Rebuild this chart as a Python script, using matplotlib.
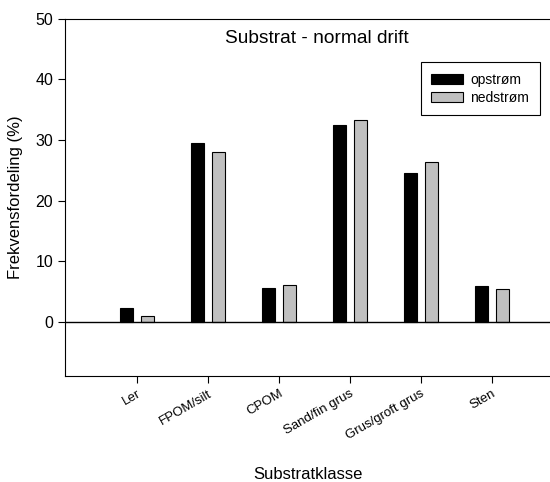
import numpy as np
import matplotlib
matplotlib.use('Agg')
import matplotlib.pyplot as plt

## data
klasser = ['Ler', 'FPOM/silt', 'CPOM', 'Sand/fin grus', 'Grus/groft grus', 'Sten']
opstrom = [2.2, 29.5, 5.6, 32.5, 24.6, 5.8]
nedstrom = [0.9, 28.0, 6.1, 33.3, 26.4, 5.4]

plt.rcParams['font.family'] = ['Liberation Sans', 'DejaVu Sans']

fig = plt.figure(figsize=(5.5, 4.82), dpi=100)
ax = fig.add_axes([0.118, 0.22, 0.882, 0.7406])

x = np.arange(len(klasser))
w = 0.19
ax.bar(x - 0.148, opstrom, w, color='black', edgecolor='black', linewidth=0.8, label='opstrøm')
ax.bar(x + 0.148, nedstrom, w, color='#c0c0c0', edgecolor='black', linewidth=0.8, label='nedstrøm')
ax.axhline(0, color='black', linewidth=1)

ax.set_xlim(-1.014, 5.82)
ax.set_ylim(-9, 50)
ax.set_yticks([0, 10, 20, 30, 40, 50])
ax.set_xticks(x)
ax.set_xticklabels(klasser, rotation=30, ha='right', rotation_mode='anchor')
ax.tick_params(axis='both', length=5, width=0.8, direction='out')
ax.tick_params(axis='x', labelsize=9.5)
ax.tick_params(axis='y', labelsize=11.5)
ax.spines['right'].set_visible(False)
for s in ['left', 'bottom', 'top']:
    ax.spines[s].set_linewidth(0.8)

fig.text(0.56, 1 - 479 / 482, 'Substratklasse', ha='center', va='baseline', fontsize=12)
ax.set_ylabel('Frekvensfordeling (%)', fontsize=12, labelpad=9)
ax.text(0.52, 0.946, 'Substrat - normal drift', transform=ax.transAxes,
        ha='center', va='center', fontsize=13.8)

leg = ax.legend(loc='upper left', bbox_to_anchor=(0.734, 0.879), fontsize=10,
                frameon=True, fancybox=False, edgecolor='black', framealpha=1,
                handlelength=2.3, handleheight=0.75, borderpad=0.75,
                labelspacing=0.3, handletextpad=0.5, borderaxespad=0)
leg.get_frame().set_linewidth(0.8)

plt.savefig('out.png', dpi=100)
